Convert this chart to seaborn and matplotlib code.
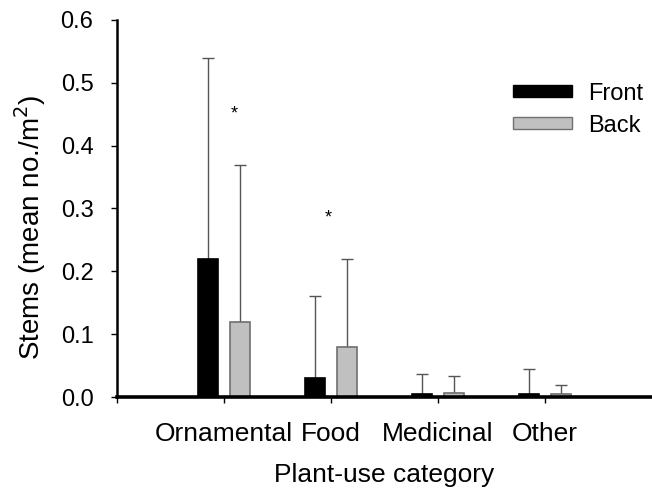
import matplotlib
matplotlib.use("Agg")
import matplotlib.pyplot as plt
import matplotlib.patches as mpatches
import seaborn as sns
import pandas as pd
import numpy as np

categories = ["Ornamental", "Food", "Medicinal", "Other"]
positions = ["Front", "Back"]
front_mean = [0.22, 0.03, 0.005, 0.005]
back_mean = [0.12, 0.08, 0.006, 0.005]
front_upper = [0.54, 0.16, 0.037, 0.045]
back_upper = [0.37, 0.22, 0.033, 0.019]
# significance markers: (category index offset, height)
star_x = [0.10, 0.97]
star_y = [0.45, 0.285]

df = pd.DataFrame({
    "category": categories * 2,
    "position": ["Front"] * 4 + ["Back"] * 4,
    "mean": front_mean + back_mean,
})

sns.set_style("white")
plt.rcParams["font.family"] = ["Liberation Sans", "DejaVu Sans"]
plt.rcParams["text.color"] = "black"
plt.rcParams["axes.labelcolor"] = "black"
plt.rcParams["xtick.color"] = "black"
plt.rcParams["ytick.color"] = "black"

fig = plt.figure(figsize=(6.52, 4.90), dpi=100)
ax = fig.add_axes([117 / 652, 1 - 397 / 490, 1 - 117 / 652, (397 - 20) / 490])

colors = {"Front": "#000000", "Back": "#c0c0c0"}
edges = {"Front": "#000000", "Back": "#707070"}

sns.barplot(data=df, x="category", y="mean", hue="position", order=categories,
            hue_order=positions, palette=colors, width=0.6, gap=0.38,
            errorbar=None, legend=False, ax=ax, linewidth=1.2)

# bars are in hue order: first Front x4, then Back x4
bars = ax.patches
for i, p in enumerate(bars[:8]):
    pos = positions[i // 4]
    p.set_edgecolor(edges[pos])
    p.set_zorder(2)

for k, (means, uppers) in enumerate([(front_mean, front_upper), (back_mean, back_upper)]):
    xs = [bars[k * 4 + j].get_x() + bars[k * 4 + j].get_width() / 2 for j in range(4)]
    err = np.array(uppers) - np.array(means)
    ax.errorbar(xs, means, yerr=[np.zeros(4), err], fmt="none", ecolor="#555555",
                elinewidth=1.0, capsize=4, capthick=1.0, zorder=1)

for x, y in zip(star_x, star_y):
    ax.text(x, y, "*", ha="center", va="center", fontsize=13, color="black")

ax.set_xlim(-1, 4)
ax.set_ylim(0, 0.6)
ax.set_xticks([-1, 0, 1, 2, 3])
ax.set_xticklabels([""] + categories, fontsize=19)
ax.set_yticks(np.arange(0, 0.61, 0.1))
ax.set_yticklabels([f"{v:.1f}" for v in np.arange(0, 0.61, 0.1)], fontsize=17)
ax.tick_params(axis="both", direction="out", length=4, width=1, color="black",
               left=True, bottom=True)
ax.tick_params(axis="y", pad=13)
ax.tick_params(axis="x", pad=14)

for side in ["top", "right"]:
    ax.spines[side].set_visible(False)
ax.spines["left"].set_linewidth(1.8)
ax.spines["bottom"].set_linewidth(2.6)
ax.spines["left"].set_color("black")
ax.spines["bottom"].set_color("black")

ax.set_xlabel("Plant-use category", fontsize=19, labelpad=12)
ax.set_ylabel("Stems (mean no./m$^2$)", fontsize=20)
ax.yaxis.set_label_coords(-0.129, 0.45)

handles = [mpatches.Patch(facecolor=colors[p], edgecolor=edges[p], label=p) for p in positions]
ax.legend(handles=handles, loc="upper left", bbox_to_anchor=(0.70, 0.89),
          frameon=False, fontsize=17, handlelength=2.5, handleheight=0.38,
          labelspacing=0.42, handletextpad=0.68)

fig.savefig("out.png", dpi=100)
